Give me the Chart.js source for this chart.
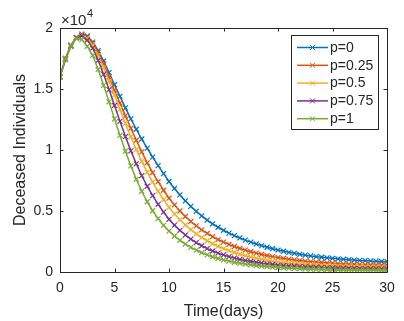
<!DOCTYPE html>
<html>
<head>
<meta charset="utf-8">
<script src="https://cdn.jsdelivr.net/npm/chart.js@4.4.1/dist/chart.umd.min.js"></script>
<style>
  html, body { margin: 0; padding: 0; background: #fff; }
  #wrap { width: 404px; height: 321px; }
</style>
</head>
<body>
<div id="wrap"><canvas id="grafico" width="404" height="321"></canvas></div>
<script>
// tempo (dias)
const days = [0, 0.5, 1, 1.5, 2, 2.5, 3, 3.5, 4, 4.5, 5, 5.5, 6, 6.5, 7, 7.5, 8, 8.5, 9, 9.5,
  10, 10.5, 11, 11.5, 12, 12.5, 13, 13.5, 14, 14.5, 15, 15.5, 16, 16.5, 17, 17.5, 18, 18.5, 19, 19.5,
  20, 20.5, 21, 21.5, 22, 22.5, 23, 23.5, 24, 24.5, 25, 25.5, 26, 26.5, 27, 27.5, 28, 28.5, 29, 29.5, 30];

// valores em unidades de 10^4
const p0 = [1.600, 1.740, 1.850, 1.920, 1.950, 1.935, 1.885, 1.815, 1.730, 1.635, 1.535, 1.440, 1.345, 1.255, 1.170, 1.090,
  1.015, 0.942, 0.872, 0.806, 0.742, 0.685, 0.632, 0.583, 0.538, 0.497, 0.460, 0.426, 0.395, 0.367, 0.342,
  0.319, 0.298, 0.279, 0.261, 0.245, 0.230, 0.216, 0.203, 0.191, 0.180, 0.170, 0.161, 0.153, 0.145, 0.138,
  0.132, 0.126, 0.121, 0.116, 0.112, 0.108, 0.104, 0.101, 0.098, 0.095, 0.093, 0.091, 0.089, 0.087, 0.085];
const p025 = [1.600, 1.745, 1.855, 1.920, 1.945, 1.925, 1.875, 1.800, 1.705, 1.600, 1.490, 1.385, 1.280, 1.178, 1.080, 0.985,
  0.895, 0.815, 0.740, 0.670, 0.605, 0.550, 0.500, 0.455, 0.414, 0.378, 0.345, 0.316, 0.290, 0.266, 0.245,
  0.226, 0.209, 0.193, 0.179, 0.166, 0.155, 0.144, 0.135, 0.126, 0.118, 0.111, 0.105, 0.099, 0.094, 0.089,
  0.085, 0.081, 0.078, 0.075, 0.072, 0.069, 0.067, 0.065, 0.063, 0.061, 0.060, 0.059, 0.058, 0.057, 0.056];
const p05 = [1.600, 1.745, 1.855, 1.920, 1.940, 1.915, 1.860, 1.775, 1.675, 1.565, 1.450, 1.333, 1.218, 1.107, 1.004, 0.907,
  0.818, 0.737, 0.663, 0.594, 0.530, 0.476, 0.428, 0.385, 0.347, 0.313, 0.283, 0.256, 0.232, 0.211, 0.192,
  0.175, 0.160, 0.146, 0.134, 0.123, 0.113, 0.104, 0.096, 0.089, 0.083, 0.077, 0.072, 0.068, 0.064, 0.061,
  0.058, 0.055, 0.053, 0.051, 0.049, 0.047, 0.046, 0.045, 0.044, 0.043, 0.042, 0.041, 0.041, 0.040, 0.040];
const p075 = [1.600, 1.750, 1.860, 1.920, 1.935, 1.900, 1.835, 1.735, 1.620, 1.495, 1.365, 1.235, 1.110, 0.993, 0.887, 0.790,
  0.703, 0.626, 0.555, 0.491, 0.432, 0.384, 0.341, 0.303, 0.270, 0.241, 0.215, 0.192, 0.172, 0.155, 0.140,
  0.126, 0.114, 0.103, 0.094, 0.086, 0.079, 0.072, 0.067, 0.062, 0.057, 0.053, 0.050, 0.047, 0.044, 0.042,
  0.040, 0.038, 0.036, 0.034, 0.033, 0.032, 0.031, 0.030, 0.029, 0.028, 0.028, 0.027, 0.027, 0.026, 0.026];
const p1 = [1.600, 1.750, 1.860, 1.915, 1.905, 1.850, 1.775, 1.660, 1.530, 1.395, 1.255, 1.120, 0.990, 0.870, 0.760, 0.662,
  0.576, 0.502, 0.438, 0.382, 0.335, 0.295, 0.260, 0.229, 0.202, 0.179, 0.158, 0.140, 0.125, 0.111, 0.099,
  0.089, 0.080, 0.072, 0.065, 0.059, 0.053, 0.048, 0.044, 0.040, 0.037, 0.034, 0.031, 0.029, 0.027, 0.025,
  0.023, 0.022, 0.021, 0.020, 0.019, 0.018, 0.017, 0.016, 0.016, 0.015, 0.015, 0.014, 0.014, 0.013, 0.013];

const seriesLabels = ["p=0", "p=0.25", "p=0.5", "p=0.75", "p=1"];
const seriesValues = [p0, p025, p05, p075, p1];
const seriesColors = ["#0072BD", "#D95319", "#EDB120", "#7E2F8E", "#77AC30"];
const xTicks = [0, 5, 10, 15, 20, 25, 30];
const yTicks = [0, 0.5, 1, 1.5, 2];

const textColor = "#262626";
const fontFam = "'Liberation Sans', Arial, sans-serif";

document.addEventListener("DOMContentLoaded", () => {
  const ctx = document.getElementById('grafico').getContext('2d');

  const datasets = seriesValues.map((vals, i) => ({
    label: seriesLabels[i],
    data: days.map((d, j) => ({ x: d, y: vals[j] })),
    borderColor: seriesColors[i],
    backgroundColor: seriesColors[i],
    borderWidth: 1.5,
    pointStyle: 'crossRot',
    pointRadius: 3.5,
    pointBorderWidth: 1.2,
    tension: 0,
    order: seriesValues.length - i // p=1 por cima
  }));

  // caixa, ticks para dentro, legenda e o x10^4
  const matlabBox = {
    id: 'matlabBox',
    afterDraw(chart) {
      const c = chart.ctx;
      const a = chart.chartArea;
      const sx = chart.scales.x, sy = chart.scales.y;
      const tl = 3.5;
      c.save();
      c.strokeStyle = textColor;
      c.lineWidth = 1;
      c.beginPath();
      c.rect(Math.round(a.left) + 0.5, Math.round(a.top) + 0.5, Math.round(a.right - a.left), Math.round(a.bottom - a.top));
      xTicks.forEach(v => {
        const px = Math.round(sx.getPixelForValue(v)) + 0.5;
        c.moveTo(px, a.bottom); c.lineTo(px, a.bottom - tl);
        c.moveTo(px, a.top); c.lineTo(px, a.top + tl);
      });
      yTicks.forEach(v => {
        const py = Math.round(sy.getPixelForValue(v)) + 0.5;
        c.moveTo(a.left, py); c.lineTo(a.left + tl, py);
        c.moveTo(a.right, py); c.lineTo(a.right - tl, py);
      });
      c.stroke();

      // x10^4
      c.fillStyle = textColor;
      c.textBaseline = 'alphabetic';
      c.textAlign = 'left';
      c.font = "15px " + fontFam;
      c.fillText("\u00d710", a.left + 1, 25);
      const w = c.measureText("\u00d710").width;
      c.font = "11px " + fontFam;
      c.fillText("4", a.left + 1 + w + 0.5, 17);

      // legenda
      const lx = 291, ly = 35, lw = 87, lh = 94;
      c.fillStyle = "#fff";
      c.fillRect(lx, ly, lw, lh);
      c.strokeStyle = "#262626";
      c.lineWidth = 1;
      c.strokeRect(lx + 0.5, ly + 0.5, lw, lh);
      c.font = "14px " + fontFam;
      c.textBaseline = 'middle';
      chart.data.datasets.forEach((ds, i) => {
        const y = ly + 12.5 + i * 17.8;
        c.strokeStyle = ds.borderColor;
        c.lineWidth = 1.5;
        c.beginPath();
        c.moveTo(297, y); c.lineTo(328, y);
        c.stroke();
        c.lineWidth = 1;
        c.beginPath();
        c.moveTo(310, y - 2.5); c.lineTo(315, y + 2.5);
        c.moveTo(310, y + 2.5); c.lineTo(315, y - 2.5);
        c.stroke();
        c.fillStyle = textColor;
        c.fillText(ds.label, 330, y + 0.5);
      });
      c.restore();
    }
  };

  const config = {
    type: 'line',
    data: { datasets },
    options: {
      responsive: false,
      animation: false,
      devicePixelRatio: 1,
      layout: { padding: { left: 0, right: 17, top: 28, bottom: 0 } },
      plugins: { legend: { display: false }, tooltip: { enabled: false } },
      scales: {
        x: {
          type: 'linear',
          min: 0, max: 30,
          afterFit: s => { s.height = 49; },
          afterBuildTicks: s => { s.ticks = xTicks.map(v => ({ value: v })); },
          grid: { display: false, drawTicks: false },
          border: { display: false },
          ticks: { color: textColor, font: { family: fontFam, size: 14 }, padding: 8, maxRotation: 0 },
          title: { display: true, text: 'Time(days)', color: textColor, font: { family: fontFam, size: 16 }, padding: { top: 2, bottom: 0 } }
        },
        y: {
          min: 0, max: 2,
          afterFit: s => { s.width = 60; },
          afterBuildTicks: s => { s.ticks = yTicks.map(v => ({ value: v })); },
          grid: { display: false, drawTicks: false },
          border: { display: false },
          ticks: { color: textColor, font: { family: fontFam, size: 14 }, padding: 7, callback: v => String(v) },
          title: { display: true, text: 'Deceased Individuals', color: textColor, font: { family: fontFam, size: 16 }, padding: { top: 11, bottom: 0 } }
        }
      }
    },
    plugins: [matlabBox]
  };

  new Chart(ctx, config);
});
</script>
</body>
</html>
